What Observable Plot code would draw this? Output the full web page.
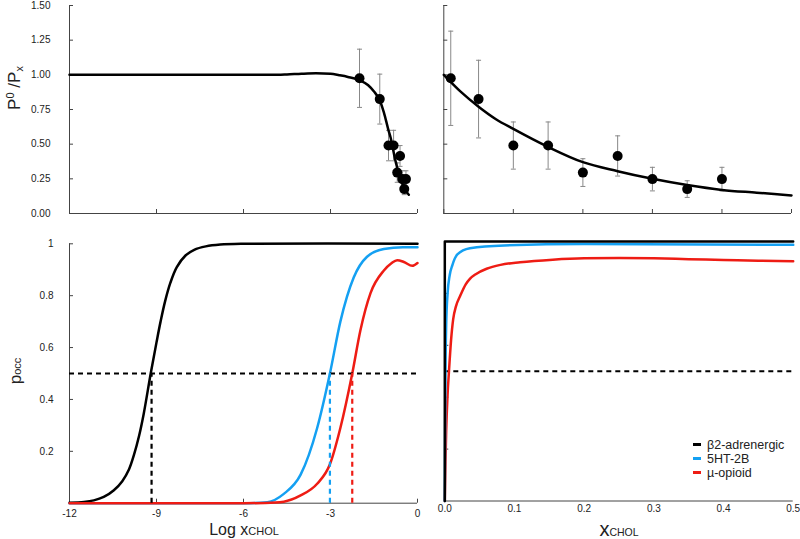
<!DOCTYPE html>
<html>
<head>
<meta charset="utf-8">
<script src="https://cdn.jsdelivr.net/npm/d3@7"></script>
<script src="https://cdn.jsdelivr.net/npm/@observablehq/plot@0.6"></script>
<style>
  html, body { margin: 0; padding: 0; background: #fff; }
  #root { position: relative; width: 800px; height: 539px; overflow: hidden; font-family: "Liberation Sans", Arial, sans-serif; color: #222; }
  .ttl { position: absolute; white-space: nowrap; line-height: 1; color: #222; }
  .legend { position: absolute; left: 693px; top: 438px; font-size: 12.5px; line-height: 14px; color: #222; }
  .legend .sw { display: inline-block; width: 8px; height: 3px; vertical-align: middle; margin-right: 6px; position: relative; top: -1px; }
</style>
</head>
<body>
<div id="root"></div>
<script>
// ---------- data ----------
// experimental points (cholesterol mole fraction) and P0/Px ratio
const xchol = [0.01, 0.05, 0.1, 0.15, 0.2, 0.25, 0.3, 0.35, 0.4];
const ratio = [0.975, 0.825, 0.49, 0.49, 0.295, 0.415, 0.248, 0.176, 0.248];
const errLog = [0.21, 0.18, 0.11, 0.11, 0.07, 0.075, 0.06, 0.04, 0.06];
const errLin = [0.34, 0.28, 0.17, 0.17, 0.10, 0.145, 0.085, 0.06, 0.085];

// fitted curve, log panel
const fitLogX = [-12, -5, -4.5, -4, -3.5, -3, -2.7, -2.4, -2.0, -1.7, -1.5, -1.3, -1.16, -1.0, -0.93, -0.76, -0.59, -0.41, -0.3];
const fitLogY = [1, 1, 1.003, 1.008, 1.011, 1.007, 0.997, 0.985, 0.962, 0.925, 0.88, 0.815, 0.73, 0.60, 0.55, 0.38, 0.25, 0.166, 0.135];
// fitted curve, linear panel
const fitLinX = [0, 0.025, 0.05, 0.075, 0.1, 0.15, 0.2, 0.25, 0.3, 0.35, 0.4, 0.45, 0.5];
const fitLinY = [1.0, 0.875, 0.77, 0.68, 0.61, 0.48, 0.37, 0.305, 0.25, 0.205, 0.17, 0.15, 0.13];

// occupancy curves vs log x
const b2LogX = [-12, -11.5, -11.16, -10.82, -10.47, -10.18, -9.95, -9.78, -9.6, -9.44, -9.2, -9.0, -8.86, -8.7, -8.52, -8.3, -8.0, -7.7, -7.3, -6.8, -6, 0];
const b2LogY = [0.002, 0.005, 0.011, 0.024, 0.05, 0.085, 0.13, 0.185, 0.26, 0.345, 0.5, 0.62, 0.70, 0.78, 0.85, 0.91, 0.955, 0.977, 0.99, 0.997, 1, 1];
const htLogX = [-12, -6, -5.18, -4.61, -4.03, -3.46, -3.02, -2.66, -2.2, -1.74, -1.16, -0.5, 0];
const htLogY = [0, 0, 0.004, 0.036, 0.11, 0.29, 0.5, 0.70, 0.87, 0.95, 0.98, 0.987, 0.987];
const muLogX = [-12, -6, -5.26, -4.61, -4.03, -3.46, -3.02, -2.66, -2.25, -1.97, -1.62, -1.16, -0.9, -0.7, -0.47, -0.18, 0];
const muLogY = [0, 0, 0.001, 0.006, 0.03, 0.075, 0.15, 0.29, 0.5, 0.666, 0.81, 0.897, 0.925, 0.937, 0.93, 0.915, 0.926];

// occupancy curves vs x
const b2LinX = [0, 0.00001, 0.5];
const b2LinY = [0, 1, 1];
const htLinX = [0, 0.0005, 0.001, 0.002, 0.004, 0.007, 0.011, 0.018, 0.036, 0.085, 0.2, 0.5];
const htLinY = [0, 0.3, 0.5, 0.68, 0.8, 0.87, 0.91, 0.95, 0.974, 0.985, 0.99, 0.987];
const muLinX = [0, 0.001, 0.002, 0.004, 0.006, 0.009, 0.012, 0.016, 0.022, 0.03, 0.036, 0.045, 0.06, 0.08, 0.108, 0.155, 0.2, 0.25, 0.3, 0.35, 0.4, 0.45, 0.5];
const muLinY = [0, 0.15, 0.27, 0.41, 0.5, 0.62, 0.70, 0.75, 0.79, 0.835, 0.856, 0.875, 0.895, 0.91, 0.92, 0.93, 0.935, 0.936, 0.935, 0.932, 0.929, 0.926, 0.924];

// half-occupancy positions (log x)
const halfNames = ["β2-adrenergic", "5HT-2B", "µ-opioid"];
const halfLogX = [-9.17, -3.02, -2.25];
const halfLevel = 0.5;

// ticks
const topYTicks = [0, 0.25, 0.5, 0.75, 1.0, 1.25, 1.5];
const botYTicks = [0.2, 0.4, 0.6, 0.8, 1];
const logXTicks = [-12, -9, -6, -3, 0];
const linXTicks = [0, 0.1, 0.2, 0.3, 0.4, 0.5];

const seriesNames = ["β2-adrenergic", "5HT-2B", "µ-opioid"];
const seriesColors = ["#000000", "#14a0f2", "#ee1c14"];

// ---------- helpers ----------
const zip = (xs, ys) => xs.map((x, i) => ({x, y: ys[i]}));
const pts = xchol.map((x, i) => ({x, lx: Math.log10(x), y: ratio[i], eL: errLog[i], eR: errLin[i]}));
const capSym = {draw(ctx) { ctx.moveTo(-2.5, 0); ctx.lineTo(2.5, 0); }};
const axisColor = "#444";
const baseStyle = {fontFamily: "'Liberation Sans', Arial, sans-serif", fontSize: "10px", color: "#222", background: "none", overflow: "visible"};
const root = document.getElementById("root");
function place(svg, left, top) {
  svg.style.position = "absolute";
  svg.style.left = left + "px";
  svg.style.top = top + "px";
  root.append(svg);
}
function errMarks(xk, ek) {
  return [
    Plot.ruleX(pts, {x: xk, y1: d => d.y - d[ek], y2: d => d.y + d[ek], stroke: "#888", strokeWidth: 1}),
    Plot.dot(pts, {x: xk, y: d => d.y + d[ek], symbol: capSym, stroke: "#888", fill: "none", strokeWidth: 1}),
    Plot.dot(pts, {x: xk, y: d => d.y - d[ek], symbol: capSym, stroke: "#888", fill: "none", strokeWidth: 1})
  ];
}
const dash = "5,4";
const curves = ["catmull-rom", "monotone-x", "monotone-x"];

// ---------- top-left: P0/Px vs log x ----------
place(Plot.plot({
  width: 430, height: 222, marginLeft: 69, marginRight: 13, marginTop: 5, marginBottom: 9,
  style: baseStyle,
  x: {domain: [-12, 0], axis: null},
  y: {domain: [0, 1.5], axis: null},
  marks: [
    Plot.ruleX([-12], {stroke: axisColor}),
    Plot.ruleY([0], {stroke: axisColor}),
    Plot.axisY({ticks: topYTicks, tickSize: 4, dx: 4, fill: "none", stroke: axisColor, label: null}),
    Plot.axisY({ticks: topYTicks, tickSize: 0, tickPadding: 19, tickFormat: d3.format(".2f"), label: null}),
    Plot.axisX({ticks: logXTicks, tickSize: 4, dy: -4, fill: "none", stroke: axisColor, label: null}),
    ...errMarks("lx", "eL"),
    Plot.line(zip(fitLogX, fitLogY), {x: "x", y: "y", stroke: "#000", strokeWidth: 2.5, curve: "monotone-x"}),
    Plot.dot(pts, {x: "lx", y: "y", r: 5, fill: "#000"})
  ]
}), 0, 0);

// ---------- top-right: P0/Px vs x ----------
place(Plot.plot({
  width: 380, height: 222, marginLeft: 23.3, marginRight: 9, marginTop: 5, marginBottom: 9,
  style: baseStyle,
  x: {domain: [0, 0.5], axis: null},
  y: {domain: [0, 1.5], axis: null},
  marks: [
    Plot.ruleX([0], {stroke: axisColor}),
    Plot.ruleY([0], {stroke: axisColor}),
    Plot.axisY({ticks: topYTicks, tickSize: 4, dx: 4, fill: "none", stroke: axisColor, label: null}),
    Plot.axisX({ticks: linXTicks, tickSize: 4, dy: -4, fill: "none", stroke: axisColor, label: null}),
    ...errMarks("x", "eR"),
    Plot.line(zip(fitLinX, fitLinY), {x: "x", y: "y", stroke: "#000", strokeWidth: 2.5, curve: "monotone-x"}),
    Plot.dot(pts, {x: "x", y: "y", r: 5, fill: "#000"})
  ]
}), 420, 0);

// ---------- bottom-left: p_occ vs log x ----------
const logSeries = [zip(b2LogX, b2LogY), zip(htLogX, htLogY), zip(muLogX, muLogY)];
const halfData = halfLogX.map((x, i) => ({x, name: halfNames[i], color: seriesColors[i]}));
place(Plot.plot({
  width: 430, height: 309, marginLeft: 69, marginRight: 13, marginTop: 13.3, marginBottom: 36.3,
  style: baseStyle,
  x: {domain: [-12, 0], axis: null},
  y: {domain: [0, 1], axis: null},
  marks: [
    Plot.ruleX([-12], {stroke: axisColor}),
    Plot.ruleY([0], {stroke: axisColor}),
    Plot.axisY({ticks: botYTicks, tickSize: 4, dx: 4, fill: "none", stroke: axisColor, label: null}),
    Plot.axisY({ticks: botYTicks, tickSize: 0, tickPadding: 16, tickFormat: d => String(d), label: null}),
    Plot.axisX({ticks: logXTicks, tickSize: 4, dy: -4, fill: "none", stroke: axisColor, label: null}),
    Plot.axisX({ticks: logXTicks, tickSize: 0, tickPadding: 7, tickFormat: d => String(d), label: null}),
    ...logSeries.map((s, i) => Plot.line(s, {x: "x", y: "y", stroke: seriesColors[i], strokeWidth: 2.5, curve: curves[i]})),
    Plot.ruleY([halfLevel], {x1: -12, x2: 0, stroke: "#000", strokeWidth: 2.2, strokeDasharray: dash}),
    Plot.ruleX(halfData, {x: "x", y1: 0, y2: halfLevel, stroke: "color", strokeWidth: 2.2, strokeDasharray: dash})
  ]
}), 0, 230);

// ---------- bottom-right: p_occ vs x ----------
const linSeries = [zip(b2LinX, b2LinY), zip(htLinX, htLinY), zip(muLinX, muLinY)];
place(Plot.plot({
  width: 380, height: 309, marginLeft: 24.3, marginRight: 7.3, marginTop: 11, marginBottom: 38.5,
  style: baseStyle,
  x: {domain: [0, 0.5], axis: null},
  y: {domain: [0, 1], axis: null},
  marks: [
    Plot.ruleY([0], {stroke: axisColor}),
    Plot.axisY({ticks: botYTicks, tickSize: 4, dx: 4, fill: "none", stroke: axisColor, label: null}),
    Plot.axisX({ticks: linXTicks, tickSize: 0, tickPadding: 4, tickFormat: d3.format(".1f"), label: null}),
    Plot.ruleY([halfLevel], {x1: 0, x2: 0.5, stroke: "#000", strokeWidth: 2.2, strokeDasharray: dash}),
    Plot.line(linSeries[2], {x: "x", y: "y", stroke: seriesColors[2], strokeWidth: 2.5, curve: "monotone-x"}),
    Plot.line(linSeries[1], {x: "x", y: "y", stroke: seriesColors[1], strokeWidth: 2.5, curve: "monotone-x"}),
    Plot.line(linSeries[0], {x: "x", y: "y", stroke: seriesColors[0], strokeWidth: 2.5})
  ]
}), 420, 230);

// ---------- titles ----------
function addTitle(html, cx, cy, rotate, size) {
  const d = document.createElement("div");
  d.className = "ttl";
  d.innerHTML = html;
  d.style.fontSize = size + "px";
  d.style.left = cx + "px";
  d.style.top = cy + "px";
  d.style.transform = "translate(-50%, -50%)" + (rotate ? " rotate(-90deg)" : "");
  root.append(d);
}
addTitle('P<sup style="font-size:11px;vertical-align:6px">0</sup> /P<sub style="font-size:11px;vertical-align:-3px">x</sub>', 15, 88, true, 17);
addTitle('p<span style="font-size:11px">occ</span>', 15, 371, true, 17);
addTitle('Log x<span style="font-size:11px">CHOL</span>', 244, 530, false, 16);
addTitle('x<span style="font-size:10.5px">CHOL</span>', 619, 529, false, 20);

// ---------- legend ----------
const lg = document.createElement("div");
lg.className = "legend";
lg.innerHTML = seriesNames.map((n, i) =>
  `<div><span class="sw" style="background:${seriesColors[i]}"></span>${n}</div>`).join("");
root.append(lg);
</script>
</body>
</html>
